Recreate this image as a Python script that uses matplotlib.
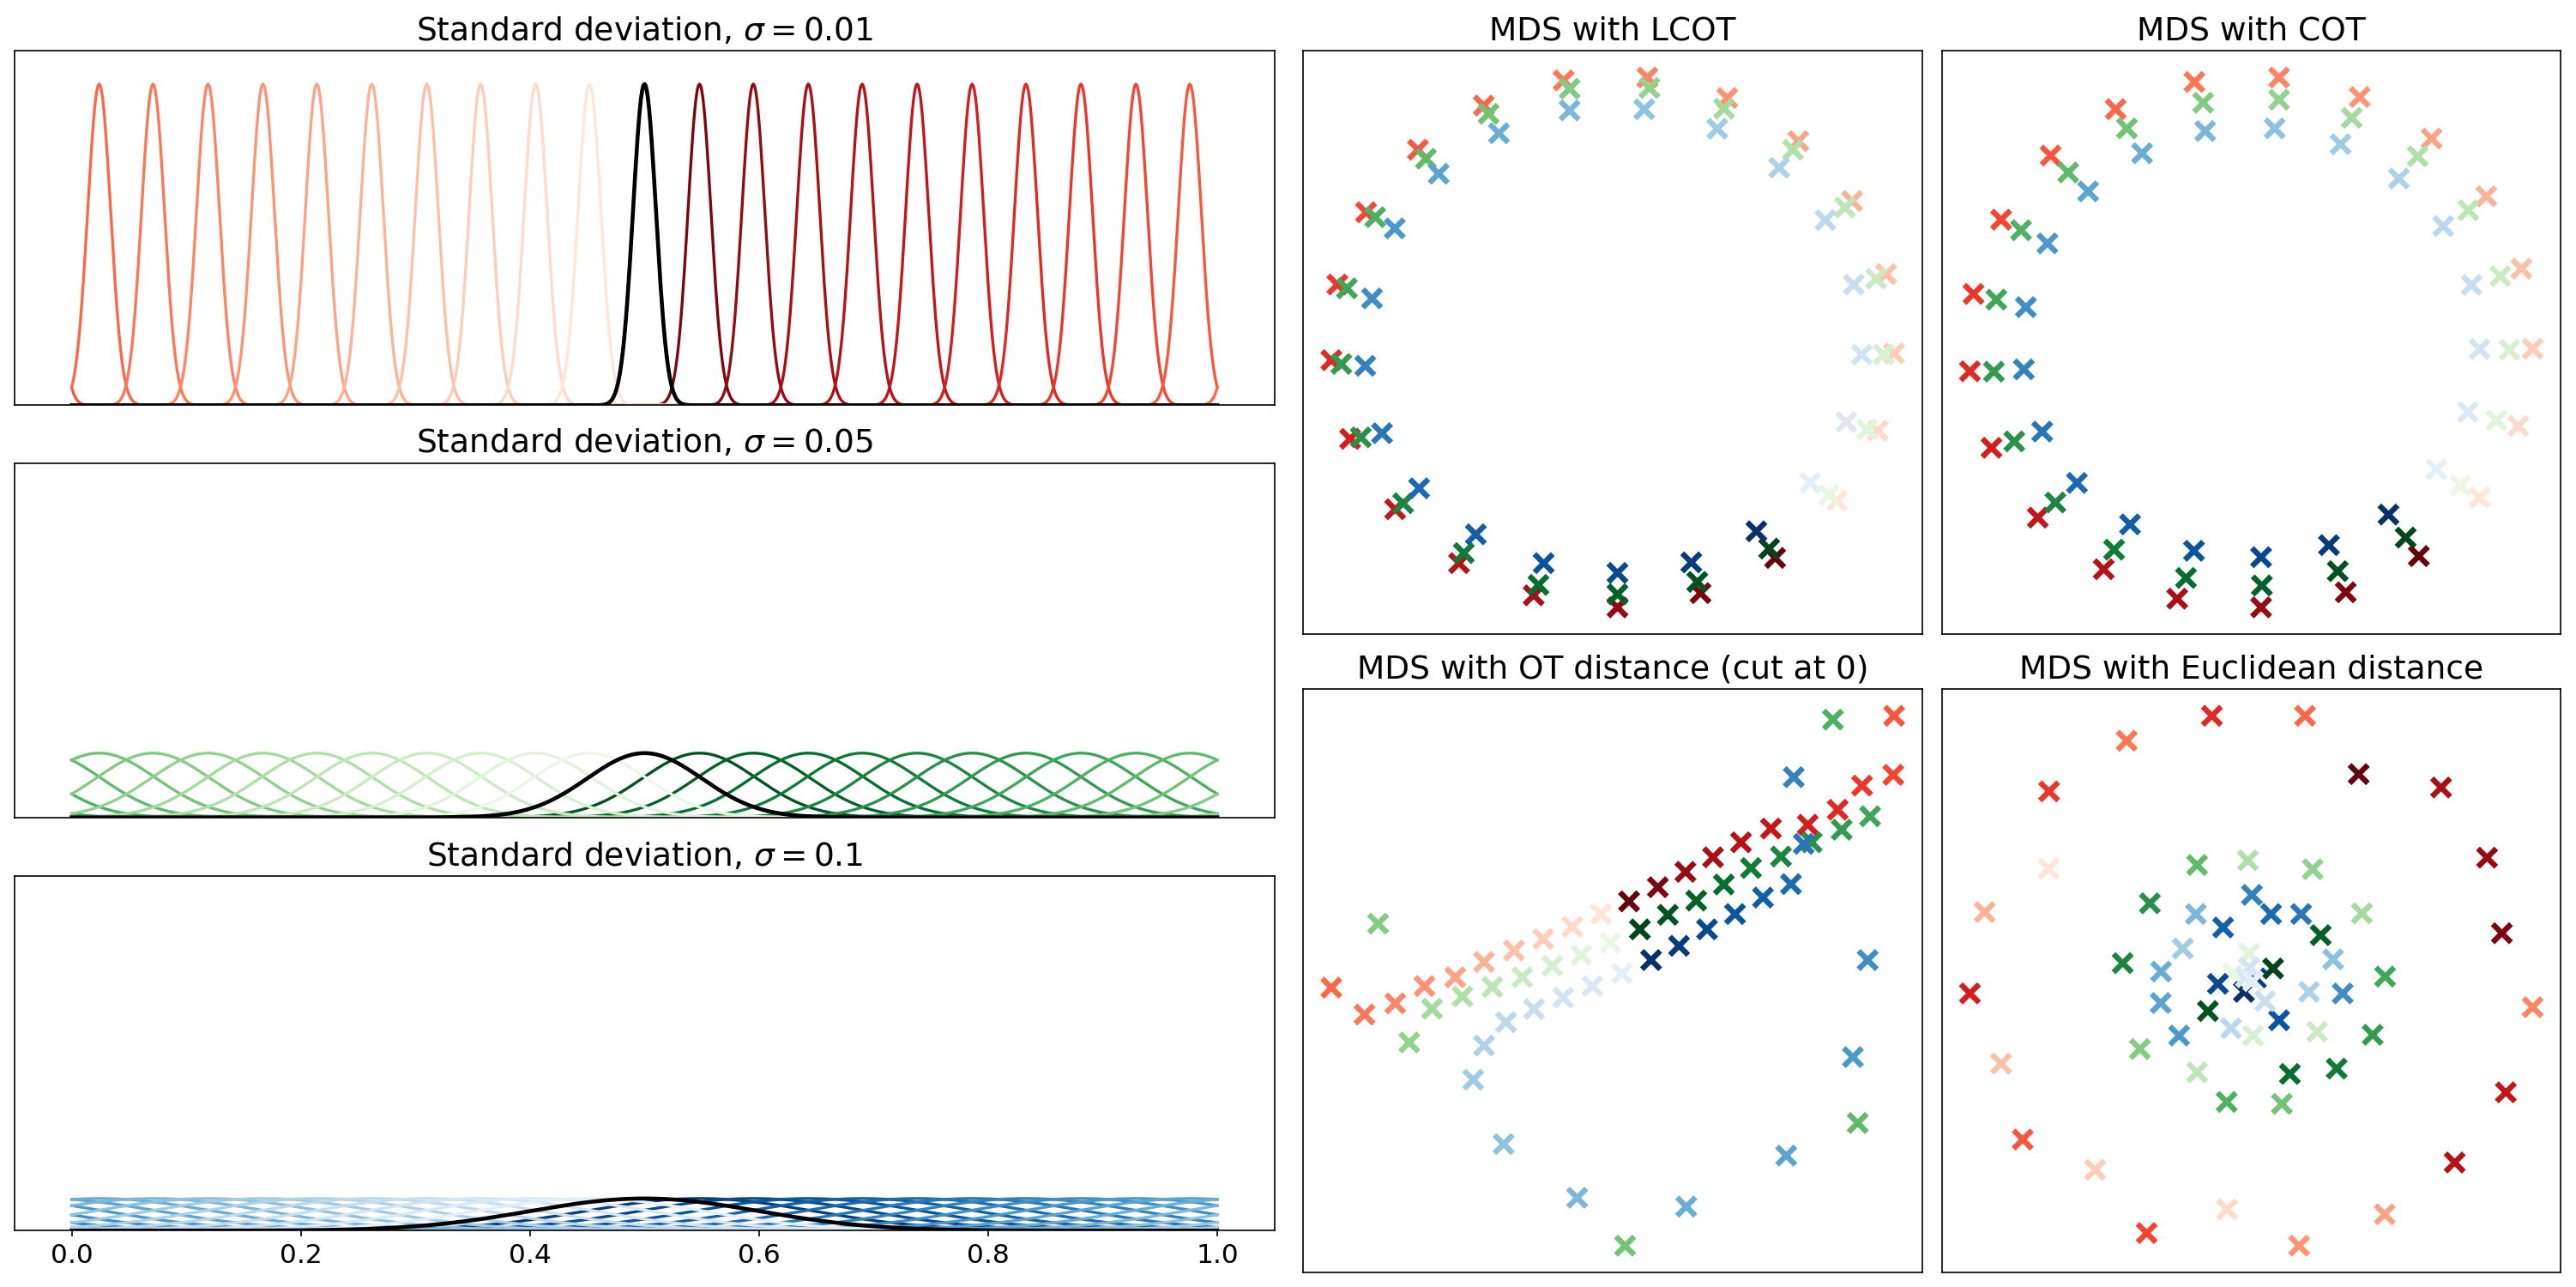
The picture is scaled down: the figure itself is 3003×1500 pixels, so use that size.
import numpy as np
import matplotlib
matplotlib.use("Agg")
import matplotlib.pyplot as plt

plt.rcParams['font.size'] = 15

# gaussian measures on the circle [0, 1)
sigmas = [0.01, 0.05, 0.1]
centers = [0.500, 0.548, 0.595, 0.643, 0.690, 0.738, 0.786, 0.833, 0.881, 0.929, 0.976,
           0.024, 0.071, 0.119, 0.167, 0.214, 0.262, 0.310, 0.357, 0.405, 0.452]
ref_center = 0.5

# MDS embeddings, index 0 = darkest colour ... 20 = lightest
lcot_red_x = [4.10, 2.23, 0.15, -1.95, -3.82, -5.42, -6.55, -7.02, -6.87, -6.15, -4.85,
              -3.20, -1.20, 0.90, 2.90, 4.68, 6.03, 6.88, 7.08, 6.67, 5.65]
lcot_red_y = [-5.78, -6.72, -7.10, -6.78, -5.92, -4.48, -2.60, -0.50, 1.52, 3.45, 5.12,
              6.30, 6.97, 7.05, 6.50, 5.35, 3.75, 1.80, -0.32, -2.38, -4.25]
lcot_green_x = [3.95, 2.15, 0.15, -1.83, -3.70, -5.22, -6.28, -6.77, -6.63, -5.92, -4.65,
                -3.08, -1.05, 0.95, 2.82, 4.55, 5.85, 6.63, 6.82, 6.40, 5.45]
lcot_green_y = [-5.53, -6.42, -6.75, -6.50, -5.65, -4.32, -2.56, -0.60, 1.42, 3.32, 4.88,
                6.08, 6.75, 6.77, 6.22, 5.12, 3.58, 1.68, -0.35, -2.35, -4.10]
lcot_blue_x = [3.63, 2.00, 0.15, -1.70, -3.40, -4.82, -5.75, -6.17, -6.00, -5.43, -4.33,
               -2.82, -1.05, 0.82, 2.65, 4.20, 5.36, 6.07, 6.27, 5.88, 4.98]
lcot_blue_y = [-5.07, -5.90, -6.18, -5.92, -5.15, -3.92, -2.45, -0.65, 1.15, 3.02, 4.48,
               5.56, 6.17, 6.20, 5.68, 4.64, 3.24, 1.52, -0.35, -2.15, -3.77]

cot_red_x = [4.23, 2.40, 0.28, -1.82, -3.66, -5.31, -6.47, -7.01, -6.92, -6.23, -4.99,
             -3.36, -1.39, 0.73, 2.75, 4.55, 5.92, 6.80, 7.08, 6.72, 5.75]
cot_red_y = [-5.67, -6.63, -7.03, -6.80, -6.02, -4.65, -2.80, -0.77, 1.28, 3.25, 4.95,
             6.18, 6.90, 7.02, 6.50, 5.40, 3.87, 1.95, -0.17, -2.22, -4.12]
cot_green_x = [3.90, 2.20, 0.30, -1.60, -3.40, -4.87, -5.90, -6.41, -6.35, -5.73, -4.55,
               -3.08, -1.17, 0.73, 2.55, 4.20, 5.47, 6.27, 6.50, 6.17, 5.27]
cot_green_y = [-5.18, -6.07, -6.45, -6.25, -5.50, -4.25, -2.63, -0.78, 1.13, 2.97, 4.50,
               5.67, 6.35, 6.43, 5.95, 4.93, 3.50, 1.75, -0.20, -2.07, -3.80]
cot_blue_x = [3.47, 1.98, 0.28, -1.40, -3.00, -4.33, -5.20, -5.66, -5.61, -5.07, -4.05,
              -2.70, -1.12, 0.62, 2.27, 3.73, 4.84, 5.55, 5.75, 5.46, 4.67]
cot_blue_y = [-4.57, -5.38, -5.70, -5.53, -4.83, -3.73, -2.37, -0.72, 0.93, 2.62, 4.00,
              5.01, 5.60, 5.67, 5.25, 4.34, 3.08, 1.52, -0.18, -1.85, -3.37]

ot_red_x = [0.45, 1.17, 1.86, 2.55, 3.25, 4.00, 4.92, 5.67, 6.28, 7.06, 7.08,
            -7.00, -6.17, -5.40, -4.67, -3.90, -3.18, -2.43, -1.70, -0.97, -0.25]
ot_red_y = [2.08, 2.45, 2.85, 3.23, 3.62, 3.98, 4.08, 4.47, 5.10, 5.38, 6.92,
            -0.17, -0.87, -0.58, -0.13, 0.10, 0.50, 0.80, 1.10, 1.42, 1.75]
ot_green_x = [0.72, 1.42, 2.13, 2.82, 3.50, 4.25, 5.02, 5.77, 6.48, 5.55, 6.17,
              0.35, -5.83, -5.05, -4.48, -3.72, -2.97, -2.22, -1.47, -0.75, -0.02]
ot_green_y = [1.35, 1.73, 2.10, 2.52, 2.95, 3.25, 3.62, 3.95, 4.30, 6.82, -3.70,
              -6.90, 1.50, -1.60, -0.72, -0.40, -0.15, 0.10, 0.40, 0.68, 1.00]
ot_blue_x = [1.00, 1.70, 2.40, 3.10, 3.80, 4.50, 4.82, 4.57, 6.42, 6.05, 4.38,
             1.88, -0.85, -2.69, -3.45, -3.18, -2.63, -1.93, -1.20, -0.47, 0.27]
ot_blue_y = [0.55, 0.92, 1.35, 1.75, 2.18, 2.53, 3.58, 5.32, 0.55, -1.98, -4.55,
             -5.88, -5.65, -4.25, -2.57, -1.68, -1.07, -0.73, -0.43, -0.13, 0.20]

euc_red_x = [2.72, 6.30, 5.93, 4.78, 5.12, 6.40, -7.00, -0.95, -5.02, -2.58, -5.68,
             1.38, -3.08, 7.07, 1.23, 3.37, -6.63, -6.22, -3.87, -0.57, -5.03]
euc_red_y = [5.40, 1.25, 3.22, 5.05, -4.73, -2.90, -0.32, 6.92, 4.95, -6.57, -4.13,
             6.92, 6.27, -0.68, -6.90, -6.08, 1.80, -2.15, -4.92, -5.95, 2.93]
euc_green_x = [0.58, -1.05, 1.77, 1.00, 2.17, -3.18, -2.50, 3.07, 3.38, -0.58, -1.32,
               0.80, -2.75, 1.57, 2.80, -0.05, -1.32, 1.68, 0.08, -0.02, -0.42]
euc_green_y = [0.33, -0.78, 1.20, -2.42, -2.28, 0.47, 2.03, -1.40, 0.12, -3.15, 3.03,
               -3.20, -1.77, 2.92, 1.77, 3.15, -2.38, -1.32, -1.42, 0.72, 0.20]
euc_blue_x = [-0.15, 0.15, -0.80, 0.73, -0.67, 0.53, 1.28, 0.05, 2.32, -1.77, -2.23,
              -2.22, -1.35, 2.08, -1.68, 1.48, -0.47, 0.38, -0.02, -0.10, 0.08]
euc_blue_y = [-0.28, 0.07, -0.07, -1.02, 1.40, 1.75, 1.75, 2.25, -0.32, -1.42, -0.57,
              0.25, 1.75, 0.57, 0.85, -0.28, -1.23, -0.52, 0.35, 0.10, 0.00]

cmaps = [plt.cm.Reds, plt.cm.Greens, plt.cm.Blues]
shade = np.linspace(1.0, 0.1, len(centers))


def wrapped_gauss(x, mu, sigma):
    y = np.zeros_like(x)
    for k in (-1, 0, 1):
        y += np.exp(-0.5 * ((x - mu + k) / sigma) ** 2) / (sigma * np.sqrt(2 * np.pi))
    return y


fig = plt.figure(figsize=(20.02, 10), dpi=150)

x = np.linspace(0, 1, 1001)
line_rects = [[0.00559, 0.6851, 0.4892, 0.2753],
              [0.00559, 0.3649, 0.4892, 0.2753],
              [0.00559, 0.0438, 0.4892, 0.2753]]
for r, sigma in enumerate(sigmas):
    ax = fig.add_axes(line_rects[r])
    cols = cmaps[r](shade)
    for c, mu in zip(cols, centers):
        ax.plot(x, wrapped_gauss(x, mu, sigma), color=c, lw=1.6)
    ax.plot(x, wrapped_gauss(x, ref_center, sigma), color='k', lw=2.2)
    ax.set_ylim(0, 44)
    ax.set_yticks([])
    if r < 2:
        ax.set_xticks([])
    else:
        ax.set_xticks([0, 0.2, 0.4, 0.6, 0.8, 1.0])
    ax.set_title(r'Standard deviation, $\sigma = %g$' % sigma)

mds = [
    ('MDS with LCOT', [0.5059, 0.5075, 0.2403, 0.4529],
     [(lcot_red_x, lcot_red_y), (lcot_green_x, lcot_green_y), (lcot_blue_x, lcot_blue_y)]),
    ('MDS with COT', [0.7538, 0.5075, 0.2403, 0.4529],
     [(cot_red_x, cot_red_y), (cot_green_x, cot_green_y), (cot_blue_x, cot_blue_y)]),
    ('MDS with OT distance (cut at 0)', [0.5059, 0.0115, 0.2403, 0.4529],
     [(ot_red_x, ot_red_y), (ot_green_x, ot_green_y), (ot_blue_x, ot_blue_y)]),
    ('MDS with Euclidean distance', [0.7538, 0.0115, 0.2403, 0.4529],
     [(euc_red_x, euc_red_y), (euc_green_x, euc_green_y), (euc_blue_x, euc_blue_y)]),
]
for title, rect, groups in mds:
    ax = fig.add_axes(rect)
    for cm, (gx, gy) in zip(cmaps, groups):
        ax.scatter(gx, gy, c=cm(shade), marker='x', s=105, linewidths=3.1)
    ax.set_xticks([])
    ax.set_yticks([])
    ax.set_title(title)

fig.savefig('out.png', dpi=150)
